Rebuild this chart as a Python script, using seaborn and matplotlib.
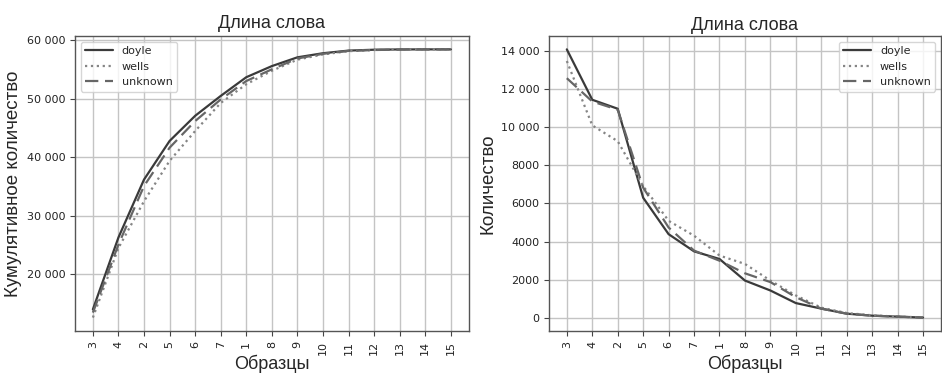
import matplotlib
matplotlib.use("Agg")
import matplotlib.pyplot as plt
import seaborn as sns
from matplotlib.ticker import FuncFormatter

# word lengths in the order nltk put them
samples = ["3", "4", "2", "5", "6", "7", "1", "8", "9", "10", "11", "12", "13", "14", "15"]
authors = ["doyle", "wells", "unknown"]

# cumulative counts (left panel)
cum_doyle = [14000, 26300, 36200, 42800, 47100, 50500, 53700, 55600, 57100, 57800, 58250, 58400, 58450, 58460, 58460]
cum_wells = [12600, 24500, 32500, 39400, 44500, 49300, 52500, 54800, 56700, 57600, 58150, 58350, 58430, 58450, 58460]
cum_unknown = [13450, 25100, 35100, 41650, 46200, 49900, 53050, 55050, 56900, 57700, 58200, 58350, 58430, 58450, 58460]

# plain counts (right panel)
cnt_doyle = [14070, 11430, 10960, 6300, 4390, 3490, 3090, 1960, 1440, 780, 490, 225, 120, 70, 20]
cnt_wells = [13460, 10090, 9260, 6910, 5090, 4310, 3270, 2830, 1960, 1180, 540, 260, 140, 70, 35]
cnt_unknown = [12560, 11340, 10910, 6830, 4740, 3530, 3000, 2340, 1880, 1090, 490, 225, 120, 70, 20]

colors = {"doyle": "#3a3a3a", "wells": "#858585", "unknown": "#666666"}
styles = {"doyle": "-", "wells": ":", "unknown": (0, (6, 3))}

sns.set_style("whitegrid")
plt.rcParams["font.family"] = ["DejaVu Sans"]

fig = plt.figure(figsize=(9.42, 3.73), dpi=100)
ax1 = fig.add_axes([0.0796, 0.1126, 0.418, 0.791])
ax2 = fig.add_axes([0.5828, 0.1126, 0.416, 0.791])


def ru_fmt(v, pos):
    v = int(round(v))
    if abs(v) >= 10000:
        return f"{v:,}".replace(",", " ")
    return str(v)


def draw(ax, series, ylabel, loc, title_pad):
    for name, vals in zip(authors, series):
        sns.lineplot(x=samples, y=vals, ax=ax, color=colors[name], linestyle=styles[name],
                     linewidth=1.6, label=name, sort=False)
    ax.set_title("Длина слова", family="Liberation Sans", fontsize=13, pad=title_pad)
    ax.set_xlabel("Образцы", family="Liberation Sans", fontsize=13, labelpad=0)
    ax.set_ylabel(ylabel, family="Liberation Sans", fontsize=13.5, labelpad=3)
    ax.yaxis.set_major_formatter(FuncFormatter(ru_fmt))
    ax.tick_params(axis="x", rotation=90, labelsize=8, length=3.5, color="#444444", colors="#222222")
    ax.tick_params(axis="y", labelsize=8, length=3.5, color="#444444", colors="#222222")
    ax.tick_params(bottom=True, left=True)
    ax.grid(True, color="#c4c4c4", linewidth=1)
    for sp in ax.spines.values():
        sp.set_color("#555555")
        sp.set_linewidth(1)
    ax.margins(x=0.05, y=0.05)
    leg = ax.legend(loc=loc, fontsize=8, frameon=True, handlelength=2.5)
    leg.get_frame().set_edgecolor("#cccccc")


draw(ax1, [cum_doyle, cum_wells, cum_unknown], "Кумулятивное количество", "upper left", 6)
draw(ax2, [cnt_doyle, cnt_wells, cnt_unknown], "Количество", "upper right", 4)
ax1.set_yticks([20000, 30000, 40000, 50000, 60000])
ax2.set_yticks(range(0, 14001, 2000))

fig.savefig("out.png", dpi=100)
